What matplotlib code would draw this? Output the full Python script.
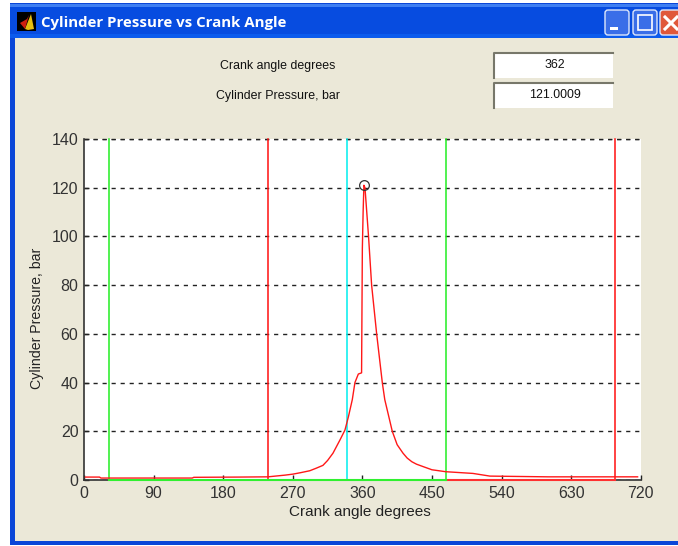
import numpy as np
import matplotlib
matplotlib.use('Agg')
import matplotlib.pyplot as plt
from matplotlib.patches import Rectangle, FancyBboxPatch

plt.rcParams['font.family'] = ['Liberation Sans', 'DejaVu Sans']

crank_angle = [0, 20, 22, 140, 142, 200, 238, 260, 270, 280, 292, 300, 309, 315, 322, 331, 337.5, 342,
               347, 350.4, 354.8, 359, 360, 361, 362, 363.4, 368, 372, 378.5, 385.8, 389, 398.7,
               405, 412.6, 418, 424, 430, 438.6, 450, 468, 503, 525, 600, 716]
pressure = [1.2, 1.2, 0.8, 0.8, 1.1, 1.2, 1.3, 2.0, 2.4, 3.0, 3.8, 4.8, 6, 8, 11, 16.4, 20.5, 26,
            33, 40, 43.5, 44, 95, 110, 121, 120, 100, 80, 60, 40, 33, 20,
            14.5, 11, 9, 7.5, 6.5, 5.5, 4.2, 3.4, 2.7, 1.6, 1.3, 1.3]
peak_angle = 362
peak_pressure = 121.0009

green_lines = [32.7, 468]
red_lines = [238.4, 687]
cyan_line = 339.7

x_ticks = list(range(0, 721, 90))
y_ticks = list(range(0, 141, 20))

W, H = 678, 546
fig = plt.figure(figsize=(W / 100, H / 100), dpi=100, facecolor='white')

# window chrome, drawn in pixel coordinates
bg = fig.add_axes([0, 0, 1, 1], zorder=0)
bg.set_xlim(0, W)
bg.set_ylim(H, 0)
bg.axis('off')
bg.add_patch(Rectangle((10, 3), W - 10, 542, fc='#0a46d8', ec='none'))
bg.add_patch(Rectangle((15, 38), W - 15, 503, fc='#ebe8d8', ec='none'))
title_cols = np.zeros((34, 1, 3))
title_cols[:] = [0.03, 0.30, 0.88]
title_cols[:3] = [0.25, 0.50, 0.95]
title_cols[-4:] = [0.05, 0.36, 0.93]
bg.imshow(title_cols, extent=(10, W, 38, 4), aspect='auto', zorder=1)
bg.set_xlim(0, W)
bg.set_ylim(H, 0)

# icon
bg.add_patch(Rectangle((17, 12), 19, 19, fc='black', ec='none', zorder=2))
bg.fill([25, 31, 34, 28], [29, 14, 29, 30], fc='#e8c010', zorder=3)
bg.fill([20, 27, 29, 25], [23, 19, 15, 29], fc='#d02010', zorder=3)

bg.text(41, 23, 'Cylinder Pressure vs Crank Angle', color='white', fontsize=10.8, fontweight='bold',
        family=['Open Sans', 'DejaVu Sans'], va='center', ha='left', zorder=3)

# title bar buttons
for x0, col in [(605, '#3a6ee8'), (633, '#3a6ee8'), (660, '#e0583a')]:
    bg.add_patch(FancyBboxPatch((x0, 10), 24, 25, boxstyle='round,pad=0,rounding_size=3',
                                fc=col, ec='#dfe8fb', lw=1, zorder=3))
bg.add_patch(Rectangle((610, 27), 8, 3, fc='white', ec='none', zorder=4))
bg.add_patch(Rectangle((638, 15), 14, 15, fc='none', ec='white', lw=1.2, zorder=4))
bg.plot([665, 677], [17, 29], color='white', lw=2.2, zorder=4)
bg.plot([665, 677], [29, 17], color='white', lw=2.2, zorder=4)

# readout boxes
for y0, label, val in [(53, 'Crank angle degrees', '%d' % peak_angle),
                       (83, 'Cylinder Pressure, bar', '%.4f' % peak_pressure)]:
    bg.add_patch(Rectangle((494, y0), 119, 25, fc='white', ec='none', zorder=2))
    bg.plot([494, 494, 613], [y0 + 25, y0, y0], color='#77776a', lw=1.5, zorder=3)
    bg.text(278, y0 + 13, label, fontsize=8.9, color='#111111', ha='center', va='center', zorder=3)
    bg.text(555, y0 + 12.5, val, fontsize=8.9, color='#111111', ha='center', va='center', zorder=3)

# chart
ax = fig.add_axes([84 / W, 1 - 480 / H, (640.7 - 84) / W, (480 - 139) / H], zorder=1)
ax.set_xlim(0, 720)
ax.set_ylim(0, 140)
ax.set_xticks(x_ticks)
ax.set_yticks(y_ticks)
ax.tick_params(direction='in', length=3.5, width=1, color='#222222', labelcolor='#333333',
               labelsize=11.5, pad=4)
ax.yaxis.grid(True, color='#222222', linestyle=(0, (3, 3.5)), linewidth=1)
ax.set_axisbelow(True)
for s in ['top', 'right']:
    ax.spines[s].set_visible(False)
for s in ['left', 'bottom']:
    ax.spines[s].set_color('#333333')
    ax.spines[s].set_linewidth(1.2)
# top gridline sits on the axes edge
ax.plot([0, 720], [140, 140], color='#222222', linestyle=(0, (3, 3.5)), lw=1, clip_on=False)

for xv in green_lines:
    ax.plot([xv, xv], [0, 140], color='#22ee22', lw=1.1, clip_on=False)
for xv in red_lines:
    ax.plot([xv, xv], [0, 140], color='#ff1010', lw=1.1, clip_on=False)
ax.plot([cyan_line, cyan_line], [0, 140], color='#00eeee', lw=1.1, clip_on=False)
ax.plot([green_lines[1], red_lines[1]], [0, 0], color='#ff3030', lw=1.5, clip_on=False, zorder=3)
ax.plot(green_lines, [0, 0], color='#30f030', lw=1.5, clip_on=False, zorder=3)

ax.plot(crank_angle, pressure, color='#ff1818', lw=1.0)
ax.plot([peak_angle], [peak_pressure], marker='o', ms=7, mfc='none', mec='#333333', mew=0.9,
        clip_on=False)

ax.set_xlabel('Crank angle degrees', fontsize=11, color='#222222')
ax.xaxis.set_label_coords((360 - 84) / 556.7, -(505 - 480) / 341)
ax.set_ylabel('Cylinder Pressure, bar', fontsize=10.2, color='#222222')
ax.yaxis.set_label_coords((44 - 84) / 556.7, (480 - 318) / 341)

fig.savefig('out.png', dpi=100, facecolor='white')
